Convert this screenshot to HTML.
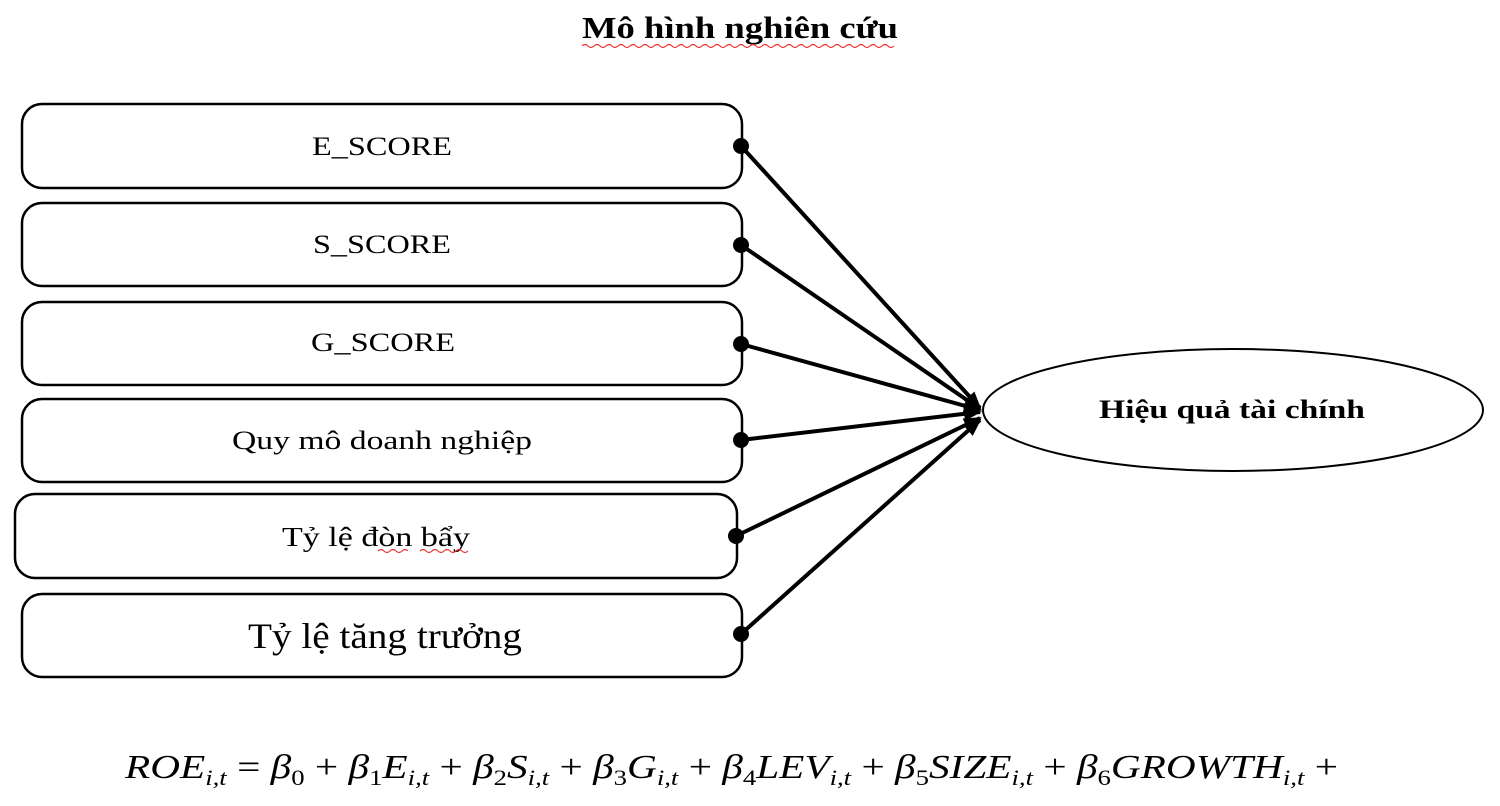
<!DOCTYPE html>
<html><head><meta charset="utf-8"><style>
html,body{margin:0;padding:0;background:#fff;width:1500px;height:806px;overflow:hidden}
svg{display:block}
text{font-family:"Liberation Serif",serif;fill:#000}
</style></head><body>
<svg width="1500" height="806" viewBox="0 0 1500 806">
<defs>
<marker id="b" markerWidth="20" markerHeight="20" refX="16" refY="10" orient="auto" markerUnits="userSpaceOnUse"><path d="M0,3 L18,10 L0,17 z" fill="#000"/></marker></defs>
<text x="740" y="38" font-size="31" font-weight="bold" text-anchor="middle" textLength="316" lengthAdjust="spacingAndGlyphs">Mô hình nghiên cứu</text>
<path d="M582 46 q3 -3 6 0 t6 0 t6 0 t6 0 t6 0 t6 0 t6 0 t6 0 t6 0 t6 0 t6 0 t6 0 t6 0 t6 0 t6 0 t6 0 t6 0 t6 0 t6 0 t6 0 t6 0 t6 0 t6 0 t6 0 t6 0 t6 0 t6 0 t6 0 t6 0 t6 0 t6 0 t6 0 t6 0 t6 0 t6 0 t6 0 t6 0 t6 0 t6 0 t6 0 t6 0 t6 0 t6 0 t6 0 t6 0 t6 0 t6 0 t6 0 t6 0 t6 0 t6 0 t6 0" fill="none" stroke="#e33" stroke-width="1.2"/>
<g fill="none" stroke="#000" stroke-width="2.5">
<rect x="22" y="104" width="720" height="84" rx="20"/>
<rect x="22" y="203" width="720" height="83" rx="20"/>
<rect x="22" y="302" width="720" height="83" rx="20"/>
<rect x="22" y="399" width="720" height="83" rx="20"/>
<rect x="15" y="494" width="722" height="84" rx="20"/>
<rect x="22" y="594" width="720" height="83" rx="20"/>
<ellipse cx="1233" cy="410" rx="250" ry="61" stroke-width="2"/>
</g>
<g stroke="#000" stroke-width="4" fill="none" marker-end="url(#b)">
<line x1="741" y1="146" x2="980" y2="408"/>
<line x1="741" y1="245" x2="980" y2="409"/>
<line x1="741" y1="344" x2="980" y2="410"/>
<line x1="741" y1="440" x2="980" y2="412"/>
<line x1="736" y1="536" x2="980" y2="418"/>
<line x1="741" y1="634" x2="980" y2="420"/>
</g>
<g fill="#000">
<circle cx="741" cy="146" r="8"/><circle cx="741" cy="245" r="8"/><circle cx="741" cy="344" r="8"/>
<circle cx="741" cy="440" r="8"/><circle cx="736" cy="536" r="8"/><circle cx="741" cy="634" r="8"/>
</g>
<text x="382" y="155" font-size="26" text-anchor="middle" textLength="140" lengthAdjust="spacingAndGlyphs">E_SCORE</text>
<text x="382" y="253" font-size="26" text-anchor="middle" textLength="138" lengthAdjust="spacingAndGlyphs">S_SCORE</text>
<text x="383" y="351" font-size="26" text-anchor="middle" textLength="144" lengthAdjust="spacingAndGlyphs">G_SCORE</text>
<text x="382" y="449" font-size="26" text-anchor="middle" textLength="300" lengthAdjust="spacingAndGlyphs">Quy mô doanh nghiệp</text>
<text x="376" y="546" font-size="27" text-anchor="middle" textLength="188" lengthAdjust="spacingAndGlyphs">Tỷ lệ đòn bẩy</text>
<path d="M378 551 q3 -3 6 0 t6 0 t6 0 t6 0 t6 0 M420 551 q3 -3 6 0 t6 0 t6 0 t6 0 t6 0 t6 0 t6 0 t6 0" fill="none" stroke="#e33" stroke-width="1.2"/>
<text x="385" y="648" font-size="36" text-anchor="middle" textLength="274" lengthAdjust="spacingAndGlyphs">Tỷ lệ tăng trưởng</text>
<text x="1232" y="418" font-size="26" font-weight="bold" text-anchor="middle" textLength="266" lengthAdjust="spacingAndGlyphs">Hiệu quả tài chính</text>
<text x="125" y="778" font-size="34" font-style="italic" textLength="1213" lengthAdjust="spacingAndGlyphs">ROE<tspan font-size="22" dy="7">i,t</tspan><tspan dy="-7" font-style="normal"> = </tspan>β<tspan font-size="22" dy="7" font-style="normal">0</tspan><tspan dy="-7" font-style="normal"> + </tspan>β<tspan font-size="22" dy="7" font-style="normal">1</tspan><tspan dy="-7">E</tspan><tspan font-size="22" dy="7">i,t</tspan><tspan dy="-7" font-style="normal"> + </tspan>β<tspan font-size="22" dy="7" font-style="normal">2</tspan><tspan dy="-7">S</tspan><tspan font-size="22" dy="7">i,t</tspan><tspan dy="-7" font-style="normal"> + </tspan>β<tspan font-size="22" dy="7" font-style="normal">3</tspan><tspan dy="-7">G</tspan><tspan font-size="22" dy="7">i,t</tspan><tspan dy="-7" font-style="normal"> + </tspan>β<tspan font-size="22" dy="7" font-style="normal">4</tspan><tspan dy="-7">LEV</tspan><tspan font-size="22" dy="7">i,t</tspan><tspan dy="-7" font-style="normal"> + </tspan>β<tspan font-size="22" dy="7" font-style="normal">5</tspan><tspan dy="-7">SIZE</tspan><tspan font-size="22" dy="7">i,t</tspan><tspan dy="-7" font-style="normal"> + </tspan>β<tspan font-size="22" dy="7" font-style="normal">6</tspan><tspan dy="-7">GROWTH</tspan><tspan font-size="22" dy="7">i,t</tspan><tspan dy="-7" font-style="normal"> +</tspan></text>
</svg>
</body></html>
